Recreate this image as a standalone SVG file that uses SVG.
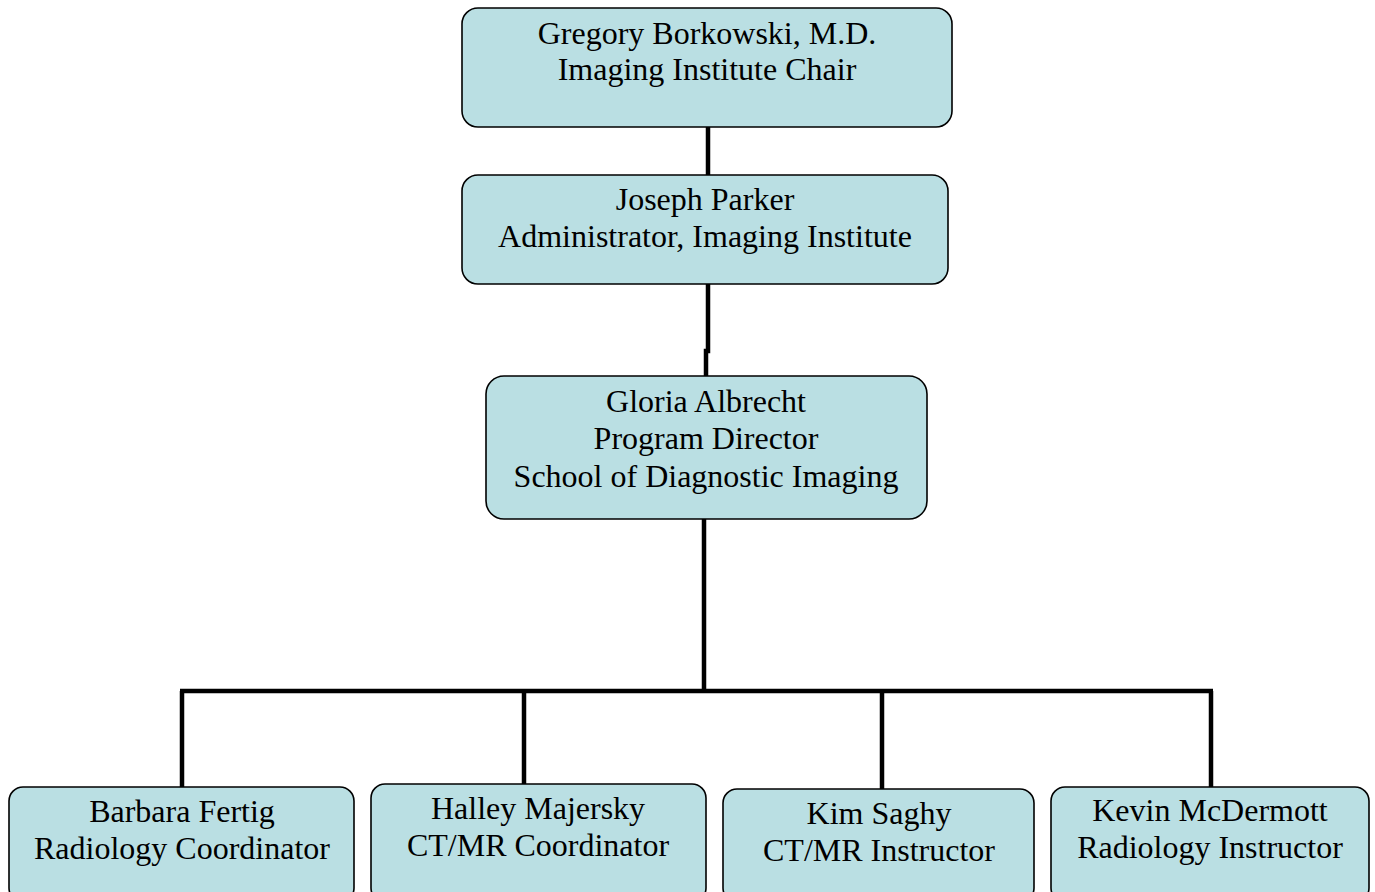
<svg xmlns="http://www.w3.org/2000/svg" width="1375" height="892" viewBox="0 0 1375 892">
<style>
.box{fill:#badfe3;stroke:#000;stroke-width:1.6}
.t{font-family:"Liberation Serif","Times New Roman",serif;font-size:32px;fill:#000;text-anchor:middle}
.c{fill:none;stroke:#000;stroke-width:4.5}
</style>
<rect width="1375" height="892" fill="#fff"/>
<g id="connectors">
<line class="c" x1="708" y1="127" x2="708" y2="175"/>
<polyline class="c" points="708,284 708,351 706,351 706,376"/>
<line class="c" x1="704" y1="519" x2="704" y2="692"/>
<line class="c" x1="180" y1="691" x2="1213" y2="691"/>
<line class="c" x1="182" y1="691" x2="182" y2="787"/>
<line class="c" x1="524" y1="691" x2="524" y2="784"/>
<line class="c" x1="882" y1="691" x2="882" y2="789"/>
<line class="c" x1="1211" y1="691" x2="1211" y2="787"/>
</g>
<g id="n1"><rect class="box" x="462" y="8" width="490" height="119" rx="16"/>
<text class="t" x="707" y="44">Gregory Borkowski, M.D.</text><text class="t" x="707" y="80">Imaging Institute Chair</text></g>
<g id="n2"><rect class="box" x="462" y="175" width="486" height="109" rx="16"/>
<text class="t" x="705" y="210">Joseph Parker</text><text class="t" x="705" y="247">Administrator, Imaging Institute</text></g>
<g id="n3"><rect class="box" x="486" y="376" width="441" height="143" rx="18"/>
<text class="t" x="706" y="412">Gloria Albrecht</text><text class="t" x="706" y="449">Program Director</text><text class="t" x="706" y="487">School of Diagnostic Imaging</text></g>
<g id="n4"><rect class="box" x="9" y="787" width="345" height="115" rx="14"/>
<text class="t" x="182" y="822">Barbara Fertig</text><text class="t" x="182" y="859">Radiology Coordinator</text></g>
<g id="n5"><rect class="box" x="371" y="784" width="335" height="118" rx="14"/>
<text class="t" x="538" y="819">Halley Majersky</text><text class="t" x="538" y="856">CT/MR Coordinator</text></g>
<g id="n6"><rect class="box" x="723" y="789" width="311" height="113" rx="14"/>
<text class="t" x="879" y="824">Kim Saghy</text><text class="t" x="879" y="861">CT/MR Instructor</text></g>
<g id="n7"><rect class="box" x="1051" y="787" width="318" height="115" rx="14"/>
<text class="t" x="1210" y="821">Kevin McDermott</text><text class="t" x="1210" y="858">Radiology Instructor</text></g>
</svg>
